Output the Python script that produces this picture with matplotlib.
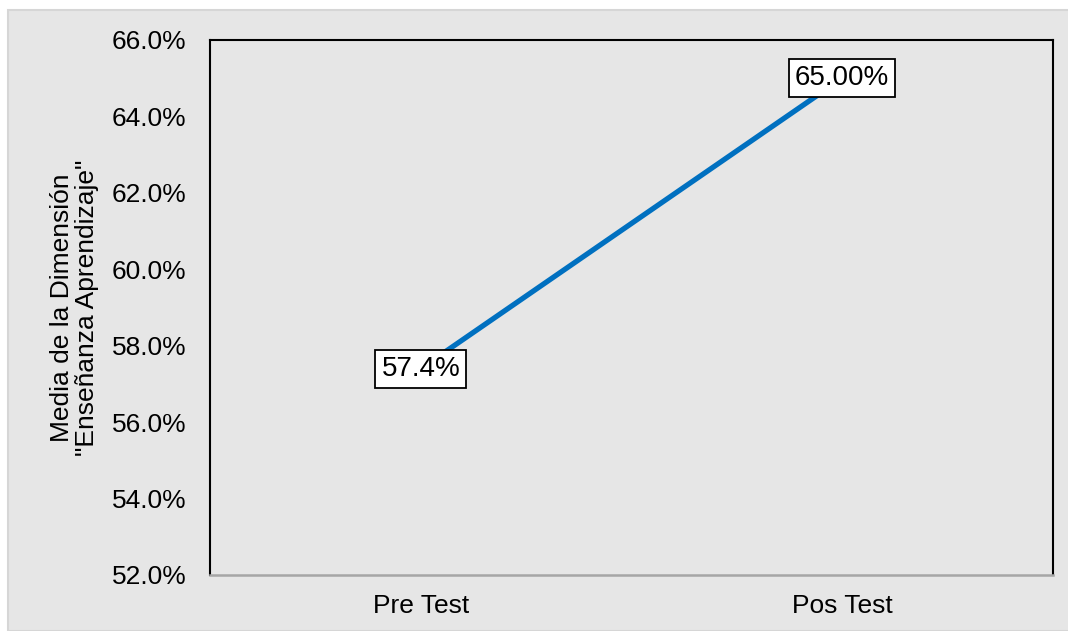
import matplotlib
matplotlib.use("Agg")
import matplotlib.pyplot as plt
from matplotlib.patches import Rectangle
from matplotlib.ticker import FuncFormatter

plt.rcParams["font.family"] = ["Liberation Sans", "DejaVu Sans"]

# Medias por momento de evaluacion
momentos = ["Pre Test", "Pos Test"]
medias = [57.4, 65.0]
etiquetas = ["57.4%", "65.00%"]

gris = "#e6e6e6"
azul = "#0070c0"

fig = plt.figure(figsize=(10.68, 6.31), dpi=100, facecolor="white")

# panel gris de fondo (debajo de los ejes)
fig.patches.append(Rectangle((8 / 1068, 0), 1, 1 - 10 / 631, transform=fig.transFigure,
                             facecolor=gris, edgecolor="#d6d6d6", linewidth=1.5, zorder=-5))

ax = fig.add_axes([210 / 1068, 1 - 575 / 631, (1053 - 210) / 1068, (575 - 40) / 631])
ax.set_facecolor(gris)

x = list(range(len(momentos)))
ax.plot(x, medias, color=azul, linewidth=3.8, solid_capstyle="butt", zorder=2)

for xi, yi, txt in zip(x, medias, etiquetas):
    ax.text(xi, yi, txt, ha="center", va="center", fontsize=20, zorder=3,
            bbox=dict(boxstyle="square,pad=0.22", facecolor="white",
                      edgecolor="black", linewidth=1.3))

ax.set_xlim(-0.5, 1.5)
ax.set_ylim(52, 66)
ax.set_yticks([52, 54, 56, 58, 60, 62, 64, 66])
ax.yaxis.set_major_formatter(FuncFormatter(lambda v, p: f"{v:.1f}%"))
ax.set_xticks(x)
ax.set_xticklabels(momentos)
ax.tick_params(axis="both", length=0, labelsize=19)
ax.tick_params(axis="y", pad=17)
ax.tick_params(axis="x", pad=14)

for lado in ["top", "left", "right"]:
    ax.spines[lado].set_color("black")
    ax.spines[lado].set_linewidth(1.5)
ax.spines["bottom"].set_color("#a6a6a6")
ax.spines["bottom"].set_linewidth(1.8)

ax.set_ylabel('Media de la Dimensión\n"Enseñanza Aprendizaje"', fontsize=19,
              linespacing=1.05, labelpad=9)

fig.savefig("out.png", dpi=100, facecolor="white")
